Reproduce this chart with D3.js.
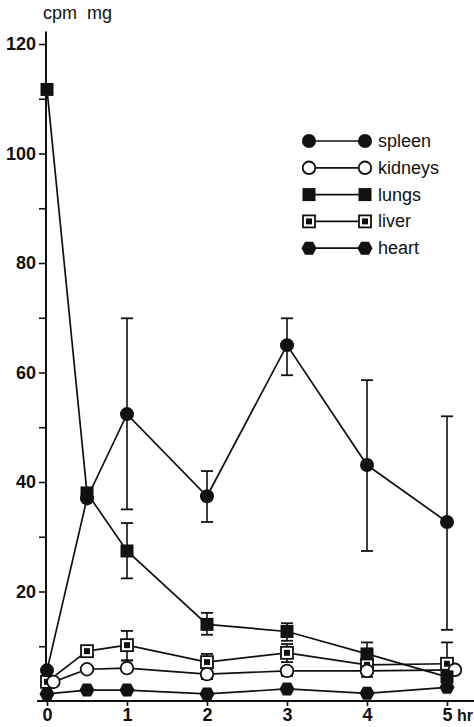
<!doctype html>
<html>

<head>
    <meta charset="UTF-8">
    <title>cpm mg organs</title>
    <script src="https://d3js.org/d3.v7.min.js"></script>
    <style>
        body { margin: 0; background: #fff; }
        text { font-family: "Liberation Sans", Arial, sans-serif; fill: #111; }
    </style>
</head>

<body>
    <svg class="chart" width="474" height="727"></svg>
    <script>
        // values (cpm/mg against hours)
        var times = [0, 0.5, 1, 2, 3, 4, 5];
        var kidneyTimes = [0.08, 0.5, 1, 2, 3, 4, 5.1];

        var spleen = [5.6, 37, 52.4, 37.4, 65, 43.1, 32.7];
        var spleenHi = [null, null, 69.9, 42, 69.9, 58.6, 52];
        var spleenLo = [null, null, 35, 32.7, 59.5, 27.4, 13];

        var kidneys = [3.5, 5.8, 6.0, 4.9, 5.5, 5.5, 5.7];
        var kidneysHi = [null, null, 7.4, null, null, null, null];
        var kidneysLo = [null, null, null, 4.0, 4.6, 4.4, null];

        var lungs = [111.7, 38, 27.4, 14.0, 12.7, 8.6, 4.4];
        var lungsHi = [null, null, 32.5, 16.1, 14.2, 10.7, null];
        var lungsLo = [null, null, 22.4, 12.1, 11, null, null];

        var liver = [3.5, 9.1, 10.2, 7.1, 8.8, 6.6, 6.8];
        var liverHi = [null, null, 12.8, 8.6, 10.4, null, 10.7];
        var liverLo = [null, null, 7.4, null, 7.1, null, null];

        var heart = [1.3, 2.0, 2.0, 1.3, 2.2, 1.4, 2.5];

        var yMajor = [20, 40, 60, 80, 100, 120];
        var yMinor = [10, 30, 50, 70, 90, 110];
        var xTicks = [0, 1, 2, 3, 4, 5];
        var legendNames = ["spleen", "kidneys", "lungs", "liver", "heart"];

        var svg = d3.select(".chart");
        var x = d3.scaleLinear().domain([0, 5]).range([47, 447]);
        var y = d3.scaleLinear().domain([0, 120]).range([701, 44]);

        // axes
        var ax = svg.append("g").attr("transform", "translate(46,0)");
        ax.append("line")
            .attr("x1", 0).attr("x2", 0)
            .attr("y1", y(122.3)).attr("y2", y(0))
            .attr("stroke", "#111").attr("stroke-width", 2);
        ax.call(d3.axisLeft(y).tickValues(yMinor).tickSize(7).tickFormat(""));
        ax.call(g => g.select(".domain").remove());
        var axMaj = svg.append("g").attr("transform", "translate(46,0)")
            .call(d3.axisLeft(y).tickValues(yMajor).tickSize(7).tickPadding(3));
        axMaj.select(".domain").remove();
        axMaj.selectAll("text").style("font-size", "18px").style("font-weight", "bold")
            .style("font-family", "Liberation Sans, sans-serif");
        svg.selectAll(".tick line").attr("stroke", "#111").attr("stroke-width", 1.6);

        svg.append("line")
            .attr("x1", 37).attr("x2", 474)
            .attr("y1", y(0)).attr("y2", y(0))
            .attr("stroke", "#111").attr("stroke-width", 2);
        var axX = svg.append("g").attr("transform", "translate(0," + y(0) + ")")
            .call(d3.axisBottom(x).tickValues(xTicks).tickFormat(d3.format("d")).tickSize(5).tickPadding(2));
        axX.select(".domain").remove();
        axX.selectAll(".tick line").attr("stroke", "#111").attr("stroke-width", 1.6);
        axX.selectAll("text").style("font-size", "18px").style("font-weight", "bold")
            .style("font-family", "Liberation Sans, sans-serif");
        svg.append("text").attr("x", 473).attr("y", 721).attr("text-anchor", "end")
            .style("font-size", "16px").style("font-weight", "bold").text("hr");

        svg.append("text").attr("x", 43).attr("y", 19)
            .style("font-size", "18px").attr("xml:space", "preserve").text("cpm  mg");

        // marker drawing
        var hexPath = "M-7.5,0L-4,-6.5L4,-6.5L7.5,0L4,6.5L-4,6.5Z";
        function marker(g, kind, cx, cy) {
            var m = g.append("g").attr("transform", "translate(" + cx + "," + cy + ")");
            if (kind === "spleen") {
                m.append("circle").attr("r", 7).attr("fill", "#111");
            } else if (kind === "kidneys") {
                m.append("circle").attr("r", 6.3).attr("fill", "#fff")
                    .attr("stroke", "#111").attr("stroke-width", 1.8);
            } else if (kind === "lungs") {
                m.append("rect").attr("x", -6.5).attr("y", -6.5).attr("width", 13).attr("height", 13)
                    .attr("fill", "#111");
            } else if (kind === "liver") {
                m.append("rect").attr("x", -6).attr("y", -6).attr("width", 12).attr("height", 12)
                    .attr("fill", "#fff").attr("stroke", "#111").attr("stroke-width", 1.8);
                m.append("rect").attr("x", -3).attr("y", -3).attr("width", 6).attr("height", 6)
                    .attr("fill", "#111");
            } else {
                m.append("path").attr("d", hexPath).attr("fill", "#111");
            }
        }

        var series = [
            { name: "heart", t: times, v: heart },
            { name: "liver", t: times, v: liver, hi: liverHi, lo: liverLo },
            { name: "kidneys", t: kidneyTimes, v: kidneys, hi: kidneysHi, lo: kidneysLo },
            { name: "lungs", t: times, v: lungs, hi: lungsHi, lo: lungsLo },
            { name: "spleen", t: times, v: spleen, hi: spleenHi, lo: spleenLo }
        ];

        var line = d3.line().x(d => x(d[0])).y(d => y(d[1]));
        var plot = svg.append("g");

        // lines
        series.forEach(function (s) {
            var pts = s.t.map((t, i) => [t, s.v[i]]);
            plot.append("path").attr("d", line(pts))
                .attr("fill", "none").attr("stroke", "#111").attr("stroke-width", 1.7);
        });

        // error bars
        series.forEach(function (s) {
            ["hi", "lo"].forEach(function (k) {
                if (!s[k]) return;
                s[k].forEach(function (e, i) {
                    if (e === null) return;
                    var cx = x(s.t[i]);
                    plot.append("line").attr("x1", cx).attr("x2", cx)
                        .attr("y1", y(s.v[i])).attr("y2", y(e))
                        .attr("stroke", "#111").attr("stroke-width", 1.6);
                    plot.append("line").attr("x1", cx - 6).attr("x2", cx + 6)
                        .attr("y1", y(e)).attr("y2", y(e))
                        .attr("stroke", "#111").attr("stroke-width", 1.8);
                });
            });
        });

        // markers
        series.forEach(function (s) {
            s.t.forEach(function (t, i) { marker(plot, s.name, x(t), y(s.v[i])); });
        });

        // legend
        var lg = svg.append("g");
        legendNames.forEach(function (n, i) {
            var ly = 141 + i * 26.8;
            lg.append("line").attr("x1", 309).attr("x2", 365).attr("y1", ly).attr("y2", ly)
                .attr("stroke", "#111").attr("stroke-width", 1.7);
            marker(lg, n, 309, ly);
            marker(lg, n, 365, ly);
            lg.append("text").attr("x", 378).attr("y", ly + 6)
                .style("font-size", "18px").text(n);
        });
    </script>
</body>

</html>
